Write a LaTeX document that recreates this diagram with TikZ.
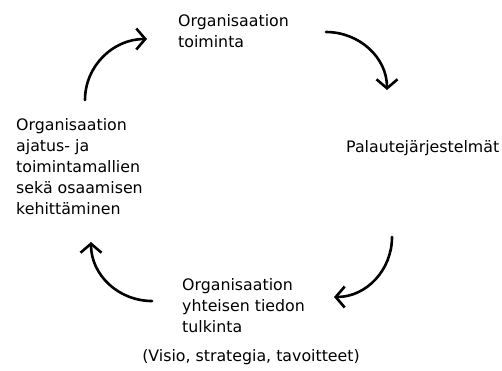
\documentclass[tikz,border=0pt]{standalone}
\usepackage{fontspec}
\setmainfont{DejaVu Sans}
\usetikzlibrary{arrows.meta}
\begin{document}
\begin{tikzpicture}[x=1bp,y=-1bp,
  % multi-line labels: base west is the baseline of the last line
  label/.style={inner sep=0pt,align=left,anchor=base west,
    font=\fontsize{15.8bp}{21bp}\selectfont},
  cyclearrow/.style={line width=2.6bp,line cap=round,
    -{Straight Barb[length=9bp,width=21bp,line width=2.6bp]}}]
  \useasboundingbox (0,0) rectangle (502,370);
  % the four stages of the cycle
  \node[label] (toim) at (178,47) {Organisaation\\toiminta};
  \node[label] (pal) at (346,152) {Palautejärjestelmät};
  \node[label] (tulk) at (182,332) {Organisaation\\yhteisen tiedon\\tulkinta};
  \node[label,anchor=base] (visio) at (251,361) {(Visio, strategia, tavoitteet)};
  \node[label] (kehit) at (16,214) {Organisaation\\ajatus- ja\\toimintamallien\\sekä osaamisen\\kehittäminen};
  % arrow end points
  \coordinate (a1s) at (85,100);  \coordinate (a1e) at (147,39);
  \coordinate (a2s) at (326,32);  \coordinate (a2e) at (387,90);
  \coordinate (a3s) at (392,237); \coordinate (a3e) at (334,297);
  \coordinate (a4s) at (152,301); \coordinate (a4e) at (91,242);
  % curved arrows between the stages
  \draw[cyclearrow] (a1s) to[out=90,in=180] (a1e);
  \draw[cyclearrow] (a2s) to[out=0,in=90] (a2e);
  \draw[cyclearrow] (a3s) to[out=-90,in=0] (a3e);
  \draw[cyclearrow] (a4s) to[out=180,in=-90] (a4e);
\end{tikzpicture}
\end{document}
